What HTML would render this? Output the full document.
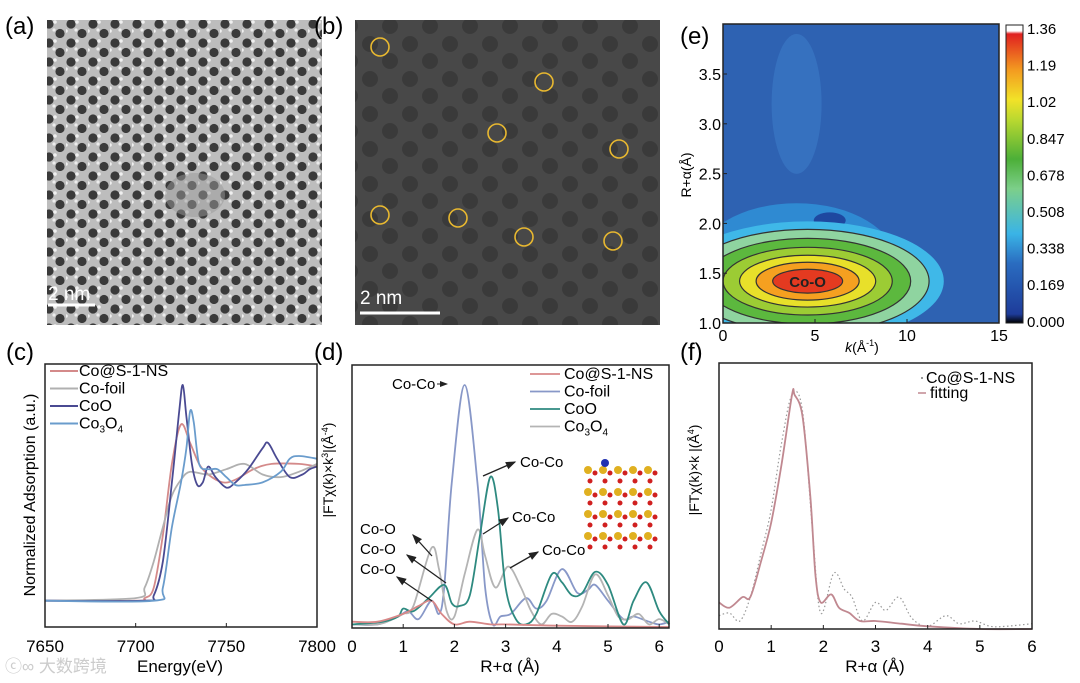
<!DOCTYPE html>
<html><head><meta charset="utf-8">
<style>
body{margin:0;background:#fff;}
svg{display:block;font-family:"Liberation Sans","Noto Sans CJK SC",sans-serif;}
</style></head>
<body>
<svg id="fig" width="1080" height="683" viewBox="0 0 1080 683" xmlns="http://www.w3.org/2000/svg">
<defs>
<pattern id="temA" width="22" height="19" patternUnits="userSpaceOnUse">
<rect width="22" height="19" fill="#bdbdbd"/>
<circle cx="5" cy="5" r="4.6" fill="#3a3a3a"/><circle cx="16" cy="14.5" r="4.6" fill="#3a3a3a"/>
<circle cx="11" cy="3" r="1.8" fill="#f0f0f0"/><circle cx="0" cy="12" r="1.8" fill="#f0f0f0"/><circle cx="10" cy="11" r="1.6" fill="#ececec"/>
</pattern>
<pattern id="temB" width="40" height="35" patternUnits="userSpaceOnUse">
<rect width="40" height="35" fill="#484848"/>
<circle cx="10" cy="9" r="8" fill="#3a3a3a"/><circle cx="30" cy="26" r="8" fill="#3a3a3a"/>
</pattern>
<linearGradient id="cbar" x1="0" y1="1" x2="0" y2="0">
<stop offset="0" stop-color="#000"/><stop offset="0.03" stop-color="#1e3c9a"/><stop offset="0.2" stop-color="#2a6cc0"/>
<stop offset="0.3" stop-color="#3ab4e6"/><stop offset="0.45" stop-color="#7ccf8a"/><stop offset="0.55" stop-color="#4caf38"/>
<stop offset="0.68" stop-color="#b8d830"/><stop offset="0.75" stop-color="#f2e228"/><stop offset="0.85" stop-color="#f39a20"/>
<stop offset="0.97" stop-color="#e02020"/><stop offset="0.98" stop-color="#fff"/><stop offset="1" stop-color="#fff"/>
</linearGradient>
<clipPath id="clipE"><rect x="723" y="24" width="276" height="299"/></clipPath>
<marker id="arr" markerWidth="8" markerHeight="8" refX="7" refY="4" orient="auto"><path d="M0,1 L8,4 L0,7 Z" fill="#222"/></marker>
</defs>

<!-- panel a -->
<text x="5" y="34" font-size="24">(a)</text>
<rect x="47" y="20" width="275" height="305" fill="url(#temA)"/>
<ellipse cx="195" cy="195" rx="30" ry="22" fill="#9a9a9a" opacity="0.5"/>
<line x1="48" y1="305" x2="95" y2="305" stroke="#fff" stroke-width="3"/>
<text x="48" y="300" font-size="19" fill="#fff">2 nm</text>

<!-- panel b -->
<text x="314" y="34" font-size="24">(b)</text>
<rect x="355" y="20" width="305" height="305" fill="url(#temB)"/>
<g fill="none" stroke="#e8b830" stroke-width="1.6">
<circle cx="380" cy="47" r="9"/><circle cx="544" cy="82" r="9"/><circle cx="497" cy="133" r="9"/><circle cx="619" cy="149" r="9"/>
<circle cx="380" cy="215" r="9"/><circle cx="458" cy="218" r="9"/><circle cx="524" cy="237" r="9"/><circle cx="613" cy="241" r="9"/>
</g>
<line x1="360" y1="313" x2="440" y2="313" stroke="#fff" stroke-width="3"/>
<text x="360" y="304" font-size="19" fill="#fff">2 nm</text>

<!-- panel e -->
<text x="680" y="44" font-size="24">(e)</text>
<g id="eplot" clip-path="url(#clipE)"></g>
<rect x="723" y="24" width="276" height="299" fill="none" stroke="#222" stroke-width="1.5"/>
<g id="eaxes"></g>
<rect x="1006" y="25" width="17" height="298" fill="url(#cbar)" stroke="#222" stroke-width="1"/>
<g id="cbarlabels" font-size="15"></g>
<text transform="translate(691,175) rotate(-90)" font-size="14" text-anchor="middle">R+α(Å)</text>
<text x="862" y="352" font-size="14" text-anchor="middle"><tspan font-style="italic">k</tspan>(Å<tspan font-size="9" dy="-6">-1</tspan><tspan dy="6">)</tspan></text>

<!-- panel c -->
<text x="6" y="360" font-size="24">(c)</text>
<g id="cplot"></g>
<rect x="45" y="364" width="272" height="263" fill="none" stroke="#222" stroke-width="1.5"/>
<text transform="translate(35,495) rotate(-90)" font-size="16" text-anchor="middle">Normalized Adsorption (a.u.)</text>
<text x="180" y="672" font-size="17" text-anchor="middle">Energy(eV)</text>
<text x="5" y="672" font-size="17" fill="#ccc">ⓒ∞ 大数跨境</text>

<!-- panel d -->
<text x="314" y="360" font-size="24">(d)</text>
<g id="dplot"></g>
<rect x="352" y="365" width="317" height="263" fill="none" stroke="#222" stroke-width="1.5"/>
<text transform="translate(333,470) rotate(-90)" font-size="14" text-anchor="middle">|FTχ(k)×k<tspan font-size="9" dy="-5">3</tspan><tspan dy="5">|(Å</tspan><tspan font-size="9" dy="-5">-4</tspan><tspan dy="5">)</tspan></text>
<text x="510" y="672" font-size="17" text-anchor="middle">R+α (Å)</text>
<g font-size="15">
<text x="392" y="389">Co-Co</text><line x1="437" y1="384" x2="447" y2="384" stroke="#222" marker-end="url(#arr)"/>
<text x="520" y="467">Co-Co</text><line x1="483" y1="476" x2="515" y2="462" stroke="#222" stroke-width="1.3" marker-end="url(#arr)"/>
<text x="512" y="522">Co-Co</text><line x1="483" y1="534" x2="508" y2="518" stroke="#222" stroke-width="1.3" marker-end="url(#arr)"/>
<text x="542" y="555">Co-Co</text><line x1="510" y1="568" x2="538" y2="552" stroke="#222" stroke-width="1.3" marker-end="url(#arr)"/>
<text x="360" y="534">Co-O</text><line x1="432" y1="556" x2="413" y2="535" stroke="#222" stroke-width="1.3" marker-end="url(#arr)"/>
<text x="360" y="554">Co-O</text><line x1="446" y1="583" x2="407" y2="555" stroke="#222" stroke-width="1.3" marker-end="url(#arr)"/>
<text x="360" y="574">Co-O</text><line x1="432" y1="601" x2="397" y2="577" stroke="#222" stroke-width="1.3" marker-end="url(#arr)"/>
</g>
<g id="inset"></g>

<!-- panel f -->
<text x="680" y="360" font-size="24">(f)</text>
<g id="fplot"></g>
<rect x="719" y="363" width="313" height="266" fill="none" stroke="#222" stroke-width="1.5"/>
<text transform="translate(699,470) rotate(-90)" font-size="14" text-anchor="middle">|FTχ(k)×k |(Å<tspan font-size="9" dy="-5">4</tspan><tspan dy="5">)</tspan></text>
<text x="875" y="672" font-size="17" text-anchor="middle">R+α (Å)</text>
</svg>
<script>
// ---- panel c data (XANES) ----
const cTicks=[7650,7700,7750,7800];
const cNames=["Co@S-1-NS","Co-foil","CoO","Co3O4"];
const cColors=["#d48a8a","#b0b0b0","#4a4a92","#6a9ccc"];
const cE0=[7650,7700,7705,7710,7715,7720,7725,7730,7735,7740,7748,7755,7765,7775,7790,7800];
const cY0=[.10,.10,.11,.15,.35,.62,.77,.70,.62,.58,.55,.56,.60,.62,.62,.61];
const cE1=[7650,7700,7705,7710,7715,7720,7725,7730,7740,7750,7760,7770,7780,7790,7800];
const cY1=[.10,.11,.15,.25,.38,.50,.56,.59,.58,.60,.62,.58,.57,.59,.62];
const cE2=[7650,7705,7710,7715,7720,7724,7726,7728,7731,7734,7737,7740,7744,7750,7755,7762,7770,7773,7778,7785,7792,7796,7800];
const cY2=[.10,.10,.12,.25,.55,.82,.92,.80,.62,.54,.55,.61,.57,.53,.55,.60,.68,.70,.64,.57,.58,.60,.61];
const cE3=[7650,7710,7715,7720,7725,7728,7730,7732,7735,7740,7745,7750,7755,7760,7770,7780,7785,7790,7800];
const cY3=[.10,.10,.15,.38,.55,.68,.82,.78,.62,.60,.60,.57,.54,.54,.55,.59,.64,.65,.64];
// ---- panel d data (FT-EXAFS) ----
const dTicks=[0,1,2,3,4,5,6];
const dNames=["Co@S-1-NS","Co-foil","CoO","Co3O4"];
const dColors=["#d88888","#8898c8","#2e8a80","#b4b4b4"];
const dR0=[0,0.5,1.0,1.3,1.55,1.75,2.0,2.3,2.7,3.0,4.0,6.2];
const dV0=[.02,.02,.05,.08,.10,.05,.01,.02,.01,.01,.005,0];
const dR1=[0,0.5,0.9,1.1,1.3,1.55,1.7,1.8,1.95,2.2,2.45,2.6,2.75,2.9,3.1,3.4,3.6,3.8,4.1,4.4,4.6,4.75,5.0,5.3,5.5,5.8,6.0,6.2];
const dV1=[.01,.01,.04,.06,.03,.10,.05,.15,.55,.92,.55,.15,.01,.04,.05,.11,.07,.10,.22,.13,.14,.16,.10,.03,.04,.02,.01,.02];
const dR2=[0,0.6,0.9,1.0,1.2,1.5,1.8,1.95,2.1,2.3,2.5,2.7,2.85,3.0,3.2,3.4,3.6,3.9,4.1,4.3,4.5,4.75,5.0,5.3,5.5,5.75,6.0,6.2];
const dV2=[.01,.02,.04,.07,.06,.11,.16,.09,.08,.12,.35,.57,.45,.15,.03,.01,.05,.20,.17,.12,.13,.21,.16,.01,.10,.17,.06,.01];
const dR3=[0,0.5,0.8,1.0,1.2,1.55,1.7,1.85,2.0,2.2,2.45,2.6,2.8,3.05,3.3,3.5,3.7,3.9,4.1,4.3,4.5,4.75,5.0,5.2,5.4,5.6,5.8,6.0,6.2];
const dV3=[.01,.01,.03,.05,.08,.30,.22,.06,.04,.20,.37,.27,.15,.23,.15,.06,.01,.05,.04,.02,.08,.20,.12,.04,.03,.05,.01,.03,.01];
// ---- panel f data ----
const fTicks=[0,1,2,3,4,5,6];
const fRfit=[0,0.2,0.45,0.6,0.8,1.0,1.2,1.4,1.45,1.6,1.75,1.85,1.95,2.15,2.3,2.5,2.7,3.0,3.5,4.0,5.0,6.0];
const fVfit=[.10,.08,.12,.12,.25,.40,.62,.88,.88,.80,.50,.20,.10,.13,.08,.06,.03,.03,.02,.01,0,0];
const fRdat=[0,0.2,0.4,0.6,0.8,1.0,1.2,1.4,1.6,1.8,1.95,2.2,2.4,2.55,2.75,3.0,3.2,3.45,3.7,4.0,4.35,4.6,4.9,5.2,5.5,6.0];
const fVdat=[.05,.06,.03,.12,.28,.45,.70,.88,.82,.35,.06,.21,.15,.12,.03,.10,.07,.12,.04,.01,.05,.02,.03,.01,.01,.02];
// ---- panel e data ----
const eKTicks=[0,5,10,15];
const eRTicks=[1.0,1.5,2.0,2.5,3.0,3.5];
const cbarLabels=["1.36","1.19","1.02","0.847","0.678","0.508","0.338","0.169","0.000"];
const eLevelColors=["#3fb8e8","#8fd4a0","#5cb83e","#9ccc34","#e8e02a","#f5a020","#e43a20"];
const eLevelRk=[7.4,6.6,5.6,4.6,3.7,2.8,1.9];
const eLevelRr=[0.60,0.52,0.43,0.34,0.26,0.19,0.12];

const NS="http://www.w3.org/2000/svg";
function mk(tag,attrs,parent){const e=document.createElementNS(NS,tag);for(const k in attrs)e.setAttribute(k,attrs[k]);parent.appendChild(e);return e;}
function smooth(pts){let d="M"+pts[0][0].toFixed(1)+","+pts[0][1].toFixed(1);
 for(let i=0;i<pts.length-1;i++){const p0=pts[Math.max(0,i-1)],p1=pts[i],p2=pts[i+1],p3=pts[Math.min(pts.length-1,i+2)];
 const c1=[p1[0]+(p2[0]-p0[0])/6,p1[1]+(p2[1]-p0[1])/6],c2=[p2[0]-(p3[0]-p1[0])/6,p2[1]-(p3[1]-p1[1])/6];
 d+=" C"+c1[0].toFixed(1)+","+c1[1].toFixed(1)+" "+c2[0].toFixed(1)+","+c2[1].toFixed(1)+" "+p2[0].toFixed(1)+","+p2[1].toFixed(1);}return d;}
function xTicks(g,ticks,sx,yb,lblY){ticks.forEach(t=>{mk("line",{x1:sx(t),x2:sx(t),y1:yb,y2:yb-4,stroke:"#222"},g);
 const tx=mk("text",{x:sx(t),y:lblY,"font-size":17,"text-anchor":"middle"},g);tx.textContent=t;
 
 });}

// panel c
(function(){const g=document.getElementById("cplot");
 const sx=e=>45+(e-7650)/150*272, sy=v=>627-v*263;
 const sets=[[cE0,cY0],[cE1,cY1],[cE2,cY2],[cE3,cY3]];
 sets.forEach((s,i)=>{const p=mk("path",{d:smooth(s[0].map((e,j)=>[sx(e),sy(s[1][j])])),fill:"none",stroke:cColors[i],"stroke-width":1.8},g);
  
  });
 xTicks(g,cTicks,sx,627,652);
 cNames.forEach((n,i)=>{const y=376+i*17.5;mk("line",{x1:50,x2:78,y1:y-5,y2:y-5,stroke:cColors[i],"stroke-width":2},g);
  const t=mk("text",{x:79,y:y,"font-size":16},g);
  
  
  if(n==="Co3O4"){t.innerHTML='Co<tspan font-size="10" dy="4">3</tspan><tspan dy="-4">O</tspan><tspan font-size="10" dy="4">4</tspan>';}else t.textContent=n;});
})();

// panel d
(function(){const g=document.getElementById("dplot");
 const sx=r=>352+r*51.2, sy=v=>627-v*263;
 const sets=[[dR1,dV1],[dR3,dV3],[dR2,dV2],[dR0,dV0]];const ci=[1,3,2,0];
 sets.forEach((s,i)=>{const p=mk("path",{d:smooth(s[0].map((r,j)=>[sx(r),sy(s[1][j])])),fill:"none",stroke:dColors[ci[i]],"stroke-width":1.8},g);
  
  });
 xTicks(g,dTicks,sx,628,652);
 dNames.forEach((n,i)=>{const y=379+i*17.5;mk("line",{x1:530,x2:560,y1:y-5,y2:y-5,stroke:dColors[i],"stroke-width":1.8},g);
  const t=mk("text",{x:564,y:y,"font-size":16},g);
  
  
  if(n==="Co3O4"){t.innerHTML='Co<tspan font-size="10" dy="4">3</tspan><tspan dy="-4">O</tspan><tspan font-size="10" dy="4">4</tspan>';}else t.textContent=n;});
 const ins=document.getElementById("inset");
 for(let r=0;r<4;r++)for(let c=0;c<5;c++){const x=588+c*15,y=470+r*22;
  mk("circle",{cx:x,cy:y,r:4,fill:"#e0b020"},ins);mk("circle",{cx:x+7,cy:y+3,r:2.5,fill:"#d02020"},ins);mk("circle",{cx:x+2,cy:y+11,r:2.5,fill:"#d02020"},ins);}
 mk("circle",{cx:605,cy:463,r:4,fill:"#2030b0"},ins);
})();

// panel f
(function(){const g=document.getElementById("fplot");
 const sx=r=>719+r*52.17, sy=v=>629-v*266;
 const p1=mk("path",{d:smooth(fRdat.map((r,j)=>[sx(r),sy(fVdat[j])])),fill:"none",stroke:"#999","stroke-width":1.2,"stroke-dasharray":"1.5,2.5"},g);
 
 
 const p2=mk("path",{d:smooth(fRfit.map((r,j)=>[sx(r),sy(fVfit[j])])),fill:"none",stroke:"#c08890","stroke-width":1.8},g);
 
 
 xTicks(g,fTicks,sx,629,652);
 const t1=mk("text",{x:926,y:383,"font-size":16},g);t1.textContent="Co@S-1-NS";
 
 
 mk("circle",{cx:922,cy:378,r:1,fill:"#777"},g);
 mk("line",{x1:918,x2:926,y1:393,y2:393,stroke:"#c08890","stroke-width":1.5},g);
 const t2=mk("text",{x:930,y:398,"font-size":16},g);t2.textContent="fitting";
 
 
})();

// panel e
(function(){const g=document.getElementById("eplot"),ax=document.getElementById("eaxes");
 const sx=k=>723+k*18.4, sy=r=>323-(r-1)*99.6;
 mk("rect",{x:723,y:24,width:276,height:299,fill:"#2e62b2"},g);
 mk("ellipse",{cx:sx(4),cy:sy(3.2),rx:25,ry:70,fill:"#3a78c4",opacity:0.7},g);
 mk("ellipse",{cx:sx(4),cy:sy(1.6),rx:100,ry:60,fill:"#2f8ad2"},g);
 mk("ellipse",{cx:sx(5.8),cy:sy(2.03),rx:16,ry:8,fill:"#1e48a0"},g);
 const cx=sx(4.6),cy=sy(1.42);
 eLevelRk.forEach((rk,i)=>{const e=mk("ellipse",{cx:cx,cy:cy,rx:rk*18.4,ry:eLevelRr[i]*99.6,fill:eLevelColors[i],stroke:"#333","stroke-width":i===0?0:1.2},g);
  
  });
 const t=mk("text",{x:cx,y:cy+6,"font-size":15,"font-weight":"bold","text-anchor":"middle",fill:"#222"},g);t.textContent="Co-O";
 eKTicks.forEach(k=>{mk("line",{x1:sx(k),x2:sx(k),y1:323,y2:319,stroke:"#222"},ax);
  const tx=mk("text",{x:sx(k),y:341,"font-size":16,"text-anchor":"middle"},ax);tx.textContent=k;
  
  });
 eRTicks.forEach(r=>{mk("line",{x1:723,x2:727,y1:sy(r),y2:sy(r),stroke:"#222"},ax);
  const tx=mk("text",{x:721,y:sy(r)+6,"font-size":16,"text-anchor":"end"},ax);tx.textContent=r.toFixed(1);
  
  });
 const cl=document.getElementById("cbarlabels");
 cbarLabels.forEach((l,i)=>{const tx=mk("text",{x:1027,y:34+i*36.6},cl);tx.textContent=l;
  
  });
})();
</script>
</body></html>
